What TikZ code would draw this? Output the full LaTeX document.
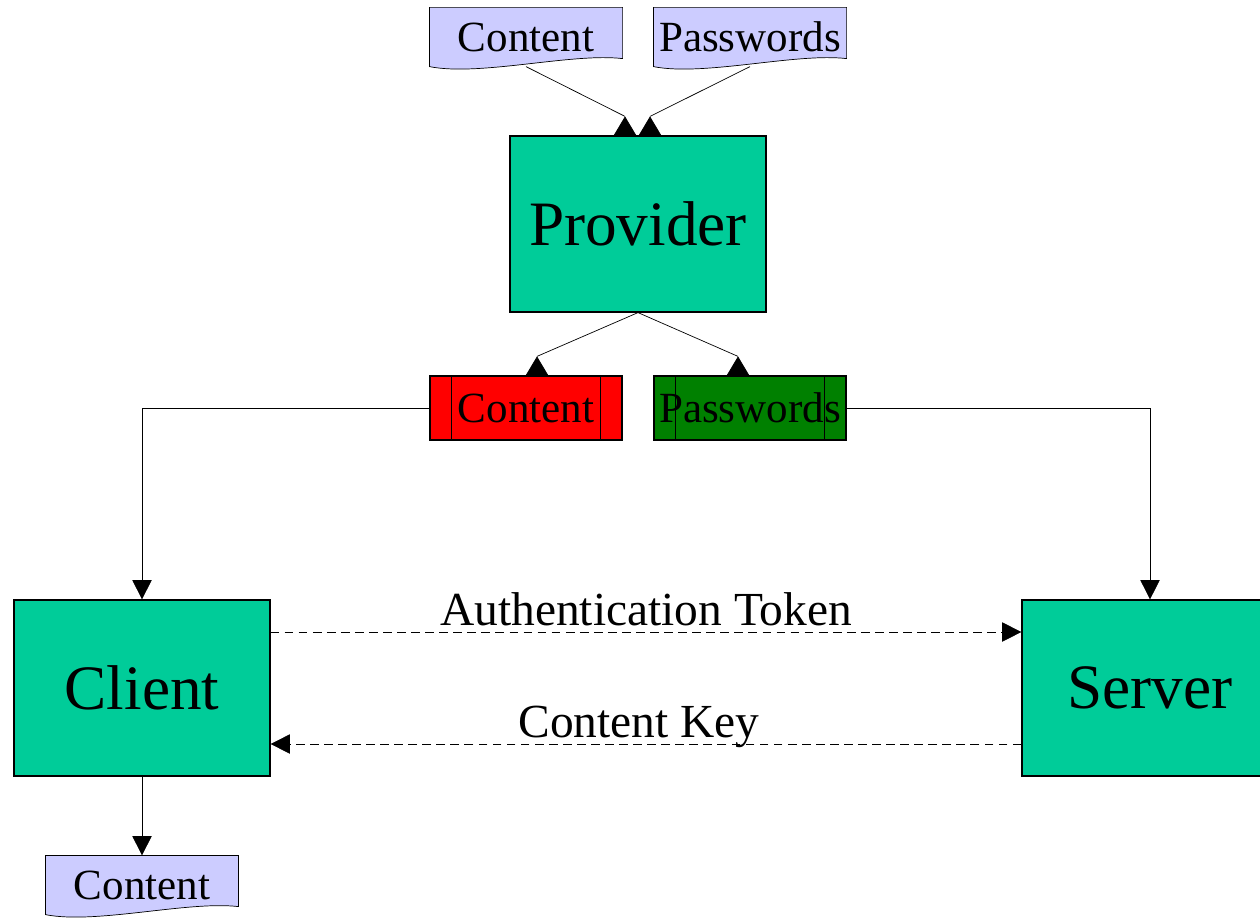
\documentclass[tikz,border=0pt]{standalone}
\usepackage{fontspec}
\setmainfont{Liberation Serif}
\usetikzlibrary{arrows.meta,calc,backgrounds}
\definecolor{boxteal}{RGB}{0,204,153}
\definecolor{doclav}{RGB}{204,204,255}
\definecolor{keyred}{RGB}{255,0,0}
\definecolor{keygreen}{RGB}{0,128,0}
\newcommand{\bigtxt}{\fontsize{36}{40}\selectfont}
\newcommand{\doctxt}{\fontsize{24.5}{28}\selectfont}
\newcommand{\lbltxt}{\fontsize{27}{30}\selectfont}

\begin{document}
\begin{tikzpicture}[x=0.02cm,y=-0.02cm,line width=0.7pt]
                        \tikzstyle{proc}=[draw, fill=boxteal, minimum width=5.12cm, minimum height=3.52cm, inner sep=0pt, font=\bigtxt]
                        \tikzstyle{docu}=[minimum width=3.84cm, minimum height=1.16cm, inner sep=0pt, font=\doctxt]
                        \tikzstyle{store}=[draw, minimum width=3.84cm, minimum height=1.28cm, inner sep=0pt, font=\doctxt]
                        \tikzstyle{flow}=[-{Triangle[length=11pt,width=11pt]}]
                        \tikzstyle{uptip}=[-{Triangle[length=11pt,width=13pt]}]
                        \useasboundingbox (0,0) rectangle (1260,919);
                        \clip (0,0) rectangle (1260,919);
                        \node[docu] (tcont) at (526,37) {Content};
                        \node[docu] (tpass) at (750,37) {Passwords};
                        \node[proc] (prov) at (638,224) {Provider};
                        \node[store, fill=keyred] (rcont) at (526,408) {Content};
                        \node[store, fill=keygreen] (gpass) at (750,408) {Passwords};
                        \node[proc] (client) at (142,688) {Client};
                        \node[proc] (server) at (1150,688) {Server};
                        \node[docu] (bcont) at (142,885) {Content};
                        \coordinate (pin1) at ($(prov.north)+(-13,0)$);
                        \coordinate (pin2) at ($(prov.north)+(12,0)$);
                        \coordinate (rin) at ($(rcont.north)+(11,0)$);
                        \coordinate (gin) at ($(gpass.north)+(-12,0)$);
                        \begin{pgfonlayer}{background}
                            \foreach \d in {tcont,tpass,bcont}
                                \draw[fill=doclav] (\d.north west) -- (\d.north east)
                                    -- ($(\d.south east)+(0,-8)$)
                                    .. controls ($(\d.south)+(46,-14)$) and ($(\d.south)+(-46,10)$) .. (\d.south west)
                                    -- cycle;
                        \end{pgfonlayer}
                        \foreach \s in {rcont,gpass}{
                            \draw ($(\s.north west)+(22,0)$) -- ($(\s.south west)+(22,0)$);
                            \draw ($(\s.north east)+(-22,0)$) -- ($(\s.south east)+(-22,0)$);
                        }
                        \draw (tcont.south) -- ($(pin1)+(0,-19)$);
                        \draw (tpass.south) -- ($(pin2)+(0,-19)$);
                        \draw (prov.south) -- ($(rin)+(0,-19)$);
                        \draw (prov.south) -- ($(gin)+(0,-19)$);
                        \foreach \p in {pin1,pin2,rin,gin}
                            \draw[uptip] (\p) -- ++(0,-19);
                        \draw[flow] (rcont.west) -| (client.north);
                        \draw[flow] (gpass.east) -| (server.north);
                        \draw[flow, dash pattern=on 5pt off 3pt] ($(client.east)+(0,-56)$) -- ($(server.west)+(0,-56)$)
                            node[midway, anchor=base, yshift=3.5pt, inner sep=0pt, font=\lbltxt] {Authentication Token};
                        \draw[flow, dash pattern=on 5pt off 3pt] ($(server.west)+(0,56)$) -- ($(client.east)+(0,56)$)
                            node[midway, anchor=base, yshift=3.5pt, xshift=-4pt, inner sep=0pt, font=\lbltxt] {Content Key};
                        \draw[flow] (client.south) -- (bcont.north);
                    \end{tikzpicture}
\end{document}
